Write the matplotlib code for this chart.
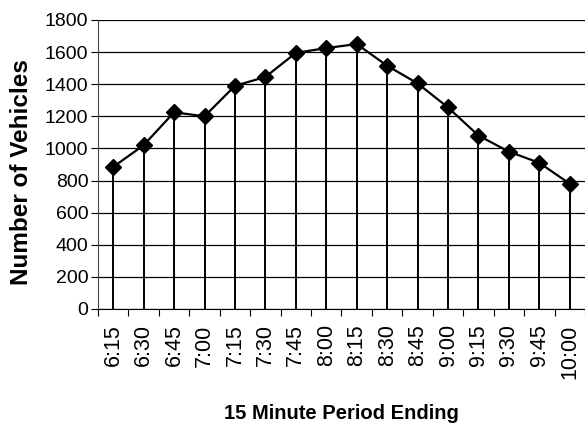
import matplotlib
matplotlib.use("Agg")
from matplotlib import pyplot as plt
import numpy as np

# 15 minute periods and counts
periods = ['6:15', '6:30', '6:45', '7:00', '7:15', '7:30', '7:45', '8:00',
           '8:15', '8:30', '8:45', '9:00', '9:15', '9:30', '9:45', '10:00']
vehicles = [885, 1020, 1225, 1200, 1390, 1445, 1595, 1625,
            1650, 1515, 1405, 1255, 1080, 980, 910, 780]
yticks = [0, 200, 400, 600, 800, 1000, 1200, 1400, 1600, 1800]

plt.rcParams['font.family'] = ['Liberation Sans', 'DejaVu Sans']

fig = plt.figure(figsize=(5.85, 4.25), dpi=100)
ax = fig.add_axes([0.1675, 0.273, 0.8325, 0.68])

x = np.arange(len(periods))
ax.vlines(x, 0, vehicles, colors='black', linewidth=1.4, zorder=2)
ax.plot(x, vehicles, color='black', linewidth=1.6, marker='D',
        markersize=8, zorder=3, clip_on=False)

ax.set_xlim(-0.5, len(periods) - 0.5)
ax.set_ylim(0, 1800)
ax.set_yticks(yticks)
ax.set_yticklabels([str(v) for v in yticks], fontsize=14)
ax.yaxis.grid(True, color='black', linewidth=0.9)
ax.set_axisbelow(True)

# ticks on category boundaries, labels in the middle
ax.set_xticks(np.arange(len(periods) + 1) - 0.5)
ax.set_xticklabels([])
ax.set_xticks(x, minor=True)
ax.set_xticklabels(periods, minor=True, rotation=90, fontsize=15.5)
ax.tick_params(axis='x', which='minor', length=0, pad=11)
ax.tick_params(axis='x', which='major', length=5, direction='out')
ax.tick_params(axis='y', length=5, direction='out', pad=2)

for side in ['top', 'right']:
    ax.spines[side].set_visible(False)
ax.spines['left'].set_color('#444444')
ax.spines['bottom'].set_color('black')

ax.set_ylabel('Number of Vehicles', fontsize=17.5, fontweight='bold')
ax.yaxis.set_label_coords(-0.133, 0.475)
ax.set_xlabel('15 Minute Period Ending', fontsize=14.5, fontweight='bold', labelpad=18)

fig.savefig('out.png', dpi=100)
